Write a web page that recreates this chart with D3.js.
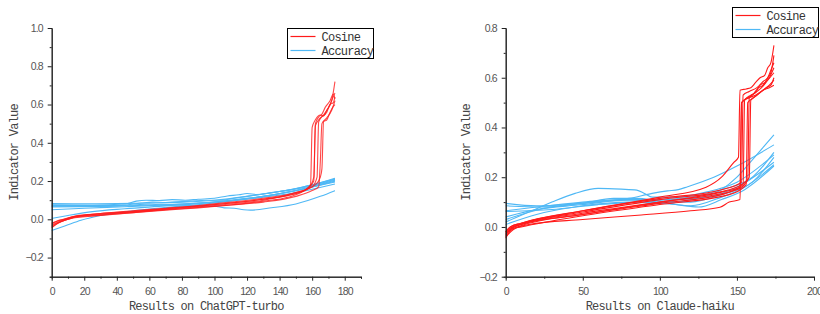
<!DOCTYPE html>
<html>
<head>
<meta charset="utf-8">
<script src="https://cdn.jsdelivr.net/npm/d3@7/dist/d3.min.js"></script>
<style>
  body { margin: 0; background: #fff; }
  svg { display: block; font-family: "Liberation Mono", "DejaVu Sans Mono", monospace; }
  .tick text { fill: #555; font-size: 10.5px; letter-spacing: -0.9px; }
  .domain, .tick line { stroke: #222; }
</style>
</head>
<body>
<svg width="820" height="314"></svg>
<script>
// each line is a list of [result index, indicator value]
var gptCosine = [
  [[0,-0.025],[3,-0.01],[8,0.0],[15,0.018],[30,0.028],[50,0.04],[70,0.055],[90,0.068],[110,0.085],[130,0.105],[145,0.125],[155,0.15],[159,0.18],[160,0.48],[162,0.52],[165,0.545],[167,0.54],[169,0.57],[172,0.62],[174,0.72]],
  [[0,-0.035],[3,-0.02],[8,-0.005],[15,0.012],[30,0.022],[50,0.035],[70,0.05],[90,0.062],[110,0.075],[130,0.095],[145,0.115],[157,0.16],[161,0.2],[162,0.5],[164,0.535],[166,0.55],[168,0.585],[171,0.62],[173,0.655],[174,0.63]],
  [[0,-0.045],[4,-0.02],[10,0.0],[16,0.015],[30,0.025],[50,0.038],[70,0.052],[90,0.065],[110,0.08],[130,0.1],[150,0.14],[160,0.17],[163,0.22],[164,0.51],[167,0.545],[170,0.585],[173,0.64],[174,0.66]],
  [[0,-0.03],[5,-0.01],[12,0.01],[30,0.03],[50,0.045],[70,0.058],[90,0.072],[110,0.09],[130,0.11],[150,0.14],[162,0.18],[165,0.22],[166,0.265],[167,0.51],[169,0.52],[171,0.56],[173,0.59],[174,0.6]],
  [[0,-0.02],[5,-0.005],[12,0.012],[30,0.03],[50,0.042],[70,0.056],[90,0.07],[110,0.085],[130,0.105],[150,0.135],[158,0.165],[161,0.22],[162,0.49],[165,0.53],[169,0.56],[171,0.6],[173,0.61],[174,0.64]],
  [[0,-0.04],[5,-0.015],[12,0.005],[30,0.02],[50,0.035],[70,0.048],[90,0.06],[110,0.075],[130,0.09],[150,0.12],[160,0.15],[164,0.17],[165,0.3],[166,0.5],[169,0.53],[172,0.57],[174,0.62]]
];
var gptAccuracy = [
  [[0,0.082],[20,0.081],[40,0.082],[60,0.085],[80,0.09],[100,0.1],[120,0.12],[140,0.145],[160,0.18],[174,0.215]],
  [[0,0.076],[25,0.074],[45,0.08],[52,0.095],[58,0.1],[66,0.098],[74,0.103],[82,0.1],[90,0.105],[100,0.11],[108,0.122],[115,0.128],[120,0.135],[126,0.13],[135,0.14],[150,0.16],[162,0.185],[174,0.21]],
  [[0,0.068],[30,0.068],[60,0.074],[90,0.085],[110,0.1],[130,0.12],[150,0.15],[165,0.18],[174,0.2]],
  [[0,0.05],[20,0.058],[45,0.066],[70,0.075],[100,0.09],[125,0.11],[150,0.14],[174,0.185]],
  [[0,0.005],[10,0.02],[25,0.04],[45,0.055],[70,0.07],[100,0.09],[130,0.12],[155,0.16],[174,0.205]],
  [[0,-0.058],[8,-0.035],[18,-0.005],[30,0.02],[50,0.045],[75,0.065],[100,0.085],[130,0.12],[155,0.16],[174,0.195]],
  [[0,0.072],[30,0.072],[50,0.075],[60,0.08],[70,0.072],[80,0.07],[92,0.07],[100,0.068],[106,0.06],[112,0.058],[118,0.05],[122,0.048],[135,0.06],[150,0.08],[165,0.12],[174,0.15]],
  [[0,0.065],[40,0.07],[55,0.085],[62,0.09],[70,0.088],[85,0.095],[95,0.1],[105,0.1],[112,0.11],[120,0.12],[140,0.145],[160,0.175],[174,0.21]]
];
var claudeCosine = [
  [[0,-0.02],[3,0.0],[10,0.015],[50,0.065],[100,0.12],[130,0.16],[140,0.2],[148,0.26],[151,0.28],[152,0.55],[156,0.555],[159,0.56],[162,0.58],[165,0.6],[168,0.61],[170,0.64],[172,0.66],[174,0.73]],
  [[0,-0.03],[3,-0.01],[10,0.01],[50,0.055],[100,0.1],[140,0.14],[152,0.16],[153,0.5],[157,0.52],[160,0.53],[164,0.56],[167,0.57],[170,0.6],[172,0.62],[174,0.69]],
  [[0,-0.045],[3,-0.015],[10,0.005],[50,0.05],[100,0.095],[140,0.13],[154,0.17],[155,0.51],[159,0.53],[162,0.54],[165,0.57],[168,0.58],[171,0.6],[174,0.64]],
  [[0,-0.035],[3,-0.01],[10,0.0],[50,0.045],[100,0.09],[145,0.13],[156,0.17],[157,0.5],[161,0.52],[165,0.54],[169,0.56],[172,0.57],[174,0.6]],
  [[0,-0.04],[5,-0.01],[15,0.01],[50,0.03],[88,0.048],[120,0.065],[139,0.079],[145,0.1],[152,0.11],[153,0.5],[158,0.52],[162,0.53],[167,0.55],[171,0.56],[174,0.57]],
  [[0,-0.025],[3,-0.005],[10,0.012],[50,0.06],[100,0.11],[145,0.15],[157,0.19],[158,0.52],[162,0.54],[166,0.56],[170,0.59],[174,0.62]],
  [[0,-0.02],[3,0.0],[10,0.015],[50,0.065],[100,0.115],[140,0.15],[153,0.18],[154,0.53],[158,0.545],[163,0.56],[167,0.585],[170,0.6],[172,0.63],[174,0.66]],
  [[0,-0.03],[3,-0.01],[10,0.01],[50,0.05],[100,0.1],[150,0.15],[158,0.2],[159,0.51],[163,0.53],[167,0.55],[171,0.57],[174,0.59]]
];
var claudeAccuracy = [
  [[0,0.02],[15,0.06],[30,0.1],[45,0.135],[60,0.155],[75,0.152],[85,0.148],[90,0.135],[95,0.12],[110,0.12],[130,0.14],[150,0.18],[174,0.29]],
  [[0,0.065],[20,0.08],[50,0.1],[80,0.115],[95,0.135],[105,0.145],[112,0.15],[118,0.162],[135,0.2],[150,0.245],[174,0.33]],
  [[0,0.095],[20,0.085],[40,0.09],[60,0.1],[80,0.11],[100,0.11],[120,0.12],[140,0.15],[160,0.2],[174,0.3]],
  [[0,0.085],[25,0.08],[50,0.095],[70,0.115],[85,0.115],[100,0.105],[120,0.1],[140,0.13],[160,0.18],[174,0.28]],
  [[0,0.04],[20,0.07],[50,0.09],[70,0.105],[90,0.11],[110,0.11],[130,0.12],[150,0.16],[174,0.26]],
  [[0,0.03],[25,0.075],[55,0.1],[75,0.11],[100,0.1],[120,0.085],[140,0.12],[155,0.16],[174,0.25]],
  [[0,0.01],[20,0.05],[50,0.085],[80,0.1],[100,0.095],[120,0.11],[140,0.15],[150,0.2],[160,0.27],[174,0.37]],
  [[0,0.062],[30,0.07],[60,0.09],[90,0.1],[110,0.09],[125,0.08],[140,0.11],[155,0.15],[174,0.245]]
];

var gptXTicks = [0, 20, 40, 60, 80, 100, 120, 140, 160, 180];
var gptYTicks = [-0.2, 0.0, 0.2, 0.4, 0.6, 0.8, 1.0];
var claudeXTicks = [0, 50, 100, 150, 200];
var claudeYTicks = [-0.2, 0.0, 0.2, 0.4, 0.6, 0.8];
var seriesNames = ["Cosine", "Accuracy"];

var red = "#ff1a1a", blue = "#4fb8f5";
var svg = d3.select("svg");

function panel(o) {
  var x = d3.scaleLinear().domain(o.xDomain).range([o.left, o.right]);
  var y = d3.scaleLinear().domain(o.yDomain).range([o.bottom, o.top]);
  var g = svg.append("g");

  var line = d3.line()
    .x(function(d) { return x(d[0]); })
    .y(function(d) { return y(d[1]); })
    .curve(d3.curveMonotoneX);

  // blue first, red drawn on top
  g.selectAll("path.acc").data(o.accuracy).enter().append("path")
    .attr("class", "acc").attr("d", line)
    .attr("fill", "none").attr("stroke", blue).attr("stroke-width", 1.1);
  g.selectAll("path.cos").data(o.cosine).enter().append("path")
    .attr("class", "cos").attr("d", line)
    .attr("fill", "none").attr("stroke", red).attr("stroke-width", 1.1)
    .attr("stroke-opacity", o.redOpacity);

  // minor ticks
  g.append("g").attr("transform", "translate(0," + o.bottom + ")")
    .call(d3.axisBottom(x).tickValues(o.xMinor).tickSize(2).tickFormat(""));
  g.append("g").attr("transform", "translate(" + o.left + ",0)")
    .call(d3.axisLeft(y).tickValues(o.yMinor).tickSize(2).tickFormat(""));

  g.append("g").attr("transform", "translate(0," + o.bottom + ")")
    .call(d3.axisBottom(x).tickValues(o.xTicks).tickSize(4).tickPadding(7).tickSizeOuter(0));
  g.append("g").attr("transform", "translate(" + o.left + ",0)")
    .call(d3.axisLeft(y).tickValues(o.yTicks).tickSize(4).tickPadding(5).tickSizeOuter(0)
      .tickFormat(d3.format(".1f")));

  g.append("text").attr("x", (o.left + o.right) / 2).attr("y", 310)
    .attr("text-anchor", "middle").attr("font-size", 12).attr("letter-spacing", -0.75)
    .attr("fill", "#444").text(o.xTitle);
  g.append("text")
    .attr("transform", "translate(" + o.yTitleX + "," + ((o.top + o.bottom) / 2) + ") rotate(-90)")
    .attr("text-anchor", "middle").attr("font-size", 12).attr("letter-spacing", -0.75)
    .attr("fill", "#444").text("Indicator Value");

  // legend
  var lg = g.append("g").attr("transform", "translate(" + o.legend[0] + "," + o.legend[1] + ")");
  lg.append("rect").attr("width", 86).attr("height", 30)
    .attr("fill", "#fff").attr("stroke", "#000").attr("stroke-width", 1);
  seriesNames.forEach(function(name, i) {
    var ly = 8 + i * 14;
    lg.append("line").attr("x1", 3).attr("x2", 28).attr("y1", ly).attr("y2", ly)
      .attr("stroke", i === 0 ? red : blue).attr("stroke-width", 1.2);
    lg.append("text").attr("x", 34).attr("y", ly + 4).attr("font-size", 12)
      .attr("letter-spacing", -0.75).attr("fill", "#333").text(name);
  });
}

panel({
  left: 51.7, right: 361, top: 28, bottom: 276.7,
  xDomain: [0, 190], yDomain: [-0.3, 1.0],
  xTicks: gptXTicks, yTicks: gptYTicks,
  xMinor: d3.range(10, 191, 20), yMinor: [-0.3, -0.1, 0.1, 0.3, 0.5, 0.7, 0.9],
  cosine: gptCosine, accuracy: gptAccuracy, redOpacity: 0.8,
  xTitle: "Results on ChatGPT-turbo", yTitleX: 18,
  legend: [287.5, 28.5]
});

panel({
  left: 505.7, right: 814, top: 28, bottom: 276.7,
  xDomain: [0, 200], yDomain: [-0.2, 0.8],
  xTicks: claudeXTicks, yTicks: claudeYTicks,
  xMinor: [25, 75, 125, 175], yMinor: [-0.1, 0.1, 0.3, 0.5, 0.7],
  cosine: claudeCosine, accuracy: claudeAccuracy, redOpacity: 1,
  xTitle: "Results on Claude-haiku", yTitleX: 470,
  legend: [732.5, 7.5]
});
</script>
</body>
</html>
